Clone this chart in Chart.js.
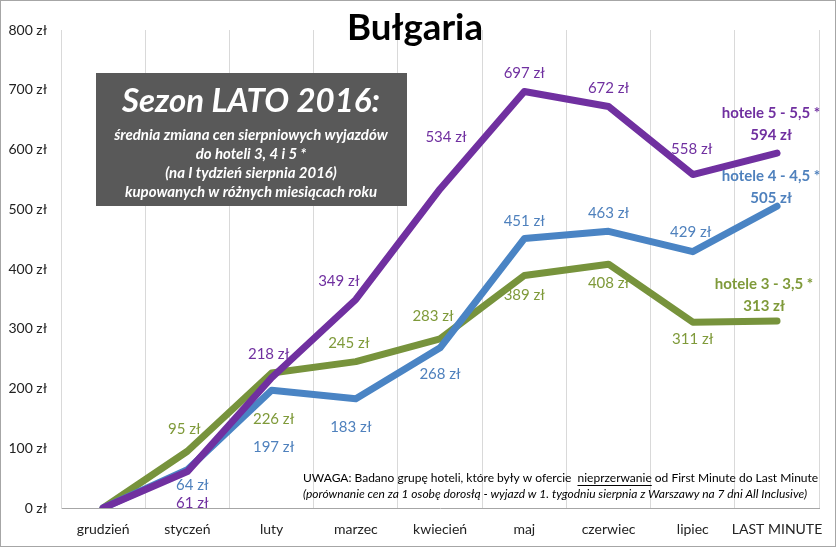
<!DOCTYPE html>
<html>
<head>
<meta charset="utf-8">
<script src="https://cdn.jsdelivr.net/npm/chart.js@4"></script>
<style>
  body { margin: 0; background: #fff; }
  canvas { display: block; }
</style>
</head>
<body>
<canvas id="chart" width="836" height="547"></canvas>
<script>
// dane z wykresu
const months = ['grudzień', 'styczeń', 'luty', 'marzec', 'kwiecień', 'maj', 'czerwiec', 'lipiec', 'LAST MINUTE'];
const hotele5 = [0, 61, 218, 349, 534, 697, 672, 558, 594];
const hotele4 = [0, 64, 197, 183, 268, 451, 463, 429, 505];
const hotele3 = [0, 95, 226, 245, 283, 389, 408, 311, 313];
const seriesNames = ['hotele 5 - 5,5 *', 'hotele 4 - 4,5 *', 'hotele 3 - 3,5 *'];
const yTicks = [0, 100, 200, 300, 400, 500, 600, 700, 800];

const FONT = 'Lato, "Open Sans", sans-serif';
const colors = ['#7030A0', '#4A84C4', '#77933C'];
const labelColors = ['#7030A0', '#4F81BD', '#7F9A3A'];

// przesunięcia etykiet względem punktu [dx, dy]
const labelOffsets = [
  [null, [5, 32], [-3, -24], [-17, -18], [6, -52], [0, -18], [0, -18], [-1, -25], [[-6, -40], [-6, -18]]],
  [null, [5, 15], [2, 57], [-5, 28], [0, 26], [0, -17], [0, -18], [-2, -20], [[-6, -30], [-6, -8]]],
  [null, [-3, -22], [2, 46], [-7, -18], [-7, -23], [0, 20], [0, 19], [0, 17], [[-13, -37], [-13, -15]]]
];

// etykiety danych
const dataLabels = {
  id: 'dataLabels',
  afterDatasetsDraw(chart) {
    const ctx = chart.ctx;
    ctx.save();
    ctx.textAlign = 'center';
    ctx.textBaseline = 'middle';
    chart.data.datasets.forEach((ds, di) => {
      const meta = chart.getDatasetMeta(di);
      meta.data.forEach((pt, i) => {
        const off = labelOffsets[di][i];
        if (!off) return;
        ctx.fillStyle = labelColors[di];
        const txt = ds.data[i] + ' zł';
        if (i === ds.data.length - 1) {
          ctx.font = 'bold 15px ' + FONT;
          ctx.fillText(seriesNames[di], pt.x + off[0][0], pt.y + off[0][1]);
          ctx.fillText(txt, pt.x + off[1][0], pt.y + off[1][1]);
        } else {
          ctx.font = '15px ' + FONT;
          ctx.fillText(txt, pt.x + off[0], pt.y + off[1]);
        }
      });
    });
    ctx.restore();
  }
};

// tytuł, ramka z opisem, uwaga i obramowanie
const decorations = {
  id: 'decorations',
  afterDraw(chart) {
    const ctx = chart.ctx;
    ctx.save();
    ctx.strokeStyle = '#a6a6a6';
    ctx.lineWidth = 1;
    ctx.strokeRect(0.5, 0.5, 835, 546);

    ctx.fillStyle = '#000';
    ctx.textAlign = 'center';
    ctx.textBaseline = 'middle';
    ctx.font = 'bold 37px ' + FONT;
    ctx.fillText('Bułgaria', 415, 28, 136);

    ctx.fillStyle = '#595959';
    ctx.fillRect(96, 73, 311, 133);
    ctx.fillStyle = '#fff';
    ctx.font = 'italic bold 33px ' + FONT;
    ctx.fillText('Sezon LATO 2016:', 251, 101, 260);
    ctx.font = 'italic bold 15px ' + FONT;
    ctx.fillText('średnia zmiana cen sierpniowych wyjazdów', 251, 135, 294);
    ctx.fillText('do hoteli 3, 4 i 5 *', 251, 154, 294);
    ctx.fillText('(na I tydzień sierpnia 2016)', 251, 173, 294);
    ctx.fillText('kupowanych w różnych miesiącach roku', 251, 192, 294);

    ctx.fillStyle = '#000';
    ctx.textAlign = 'left';
    ctx.font = '12px ' + FONT;
    const a = 'UWAGA: Badano grupę hoteli, które były w ofercie  ';
    const b = 'nieprzerwanie';
    const c = ' od First Minute do Last Minute';
    let x = 303;
    ctx.fillText(a, x, 478);
    x += ctx.measureText(a).width;
    ctx.fillText(b, x, 478);
    const wb = ctx.measureText(b).width;
    ctx.fillRect(x, 485, wb, 1);
    x += wb;
    ctx.fillText(c, x, 478);
    ctx.font = 'italic 12px ' + FONT;
    ctx.fillText('(porównanie cen za 1 osobę dorosłą - wyjazd w 1. tygodniu sierpnia z Warszawy na 7 dni All Inclusive)', 303, 494, 515);
    ctx.restore();
  }
};

const ctx = document.getElementById('chart').getContext('2d');
new Chart(ctx, {
  type: 'line',
  data: {
    labels: months,
    datasets: [hotele5, hotele4, hotele3].map((d, i) => ({
      label: seriesNames[i],
      data: d,
      borderColor: colors[i],
      backgroundColor: colors[i],
      borderWidth: 7,
      pointRadius: 0,
      tension: 0,
      borderCapStyle: 'round',
      borderJoinStyle: 'round',
      fill: false
    }))
  },
  options: {
    responsive: false,
    animation: false,
    devicePixelRatio: 1,
    layout: { padding: { top: 30, right: 14, left: 0, bottom: 0 } },
    plugins: {
      legend: { display: false },
      tooltip: { enabled: false }
    },
    scales: {
      x: {
        offset: true,
        grid: { offset: true, color: '#d9d9d9', drawTicks: false },
        border: { color: '#a6a6a6' },
        ticks: { color: '#222', font: { family: FONT, size: 14 }, padding: 13, maxRotation: 0, autoSkip: false },
        afterFit: s => { s.height = 39; }
      },
      y: {
        min: 0,
        max: 800,
        afterBuildTicks: s => { s.ticks = yTicks.map(v => ({ value: v })); },
        grid: { display: false, drawTicks: false },
        border: { color: '#d9d9d9' },
        ticks: { color: '#222', font: { family: FONT, size: 14 }, padding: 14, callback: v => v + ' zł' },
        afterFit: s => { s.width = 61; }
      }
    }
  },
  plugins: [dataLabels, decorations]
});
</script>
</body>
</html>
